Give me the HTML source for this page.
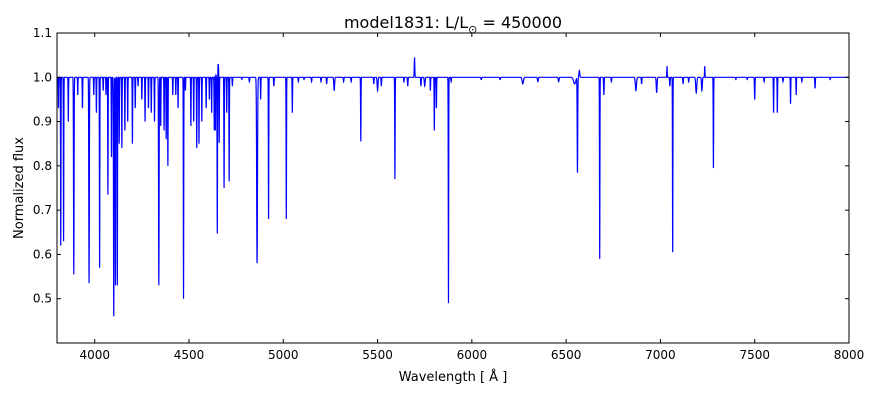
<!DOCTYPE html>
<html><head><meta charset="utf-8"><style>
body{margin:0;background:#fff;}
svg{display:block;font-family:"DejaVu Sans","Liberation Sans",sans-serif;}
</style></head><body>
<svg id="chart" width="880" height="400" viewBox="0 0 880 400" xmlns="http://www.w3.org/2000/svg">
<rect x="0" y="0" width="880" height="400" fill="#fff"/>
<g id="plot"></g>
<g id="axes"></g>
<text x="453" y="28" font-size="16" text-anchor="middle">model1831: L/L<tspan font-size="11" dy="5">⊙</tspan><tspan dy="-5"> = 450000</tspan></text>
<text x="453" y="381" font-size="13" text-anchor="middle">Wavelength [ Å ]</text>
<text x="23" y="188" font-size="13" text-anchor="middle" transform="rotate(-90 23 188)">Normalized flux</text>
</svg>
<script>
const xTicks=[4000,4500,5000,5500,6000,6500,7000,7500,8000];
const yTicks=[0.5,0.6,0.7,0.8,0.9,1.0,1.1];
const lineCenters=[3808,3820,3835,3860,3889,3910,3935,3970,3995,4009,4026,4045,4060,4070,4089,4101,4110,4120,4130,4144,4160,4175,4200,4215,4230,4250,4267,4285,4300,4317,4340,4350,4368,4379,4388,4414,4430,4442,4471,4481,4510,4525,4541,4553,4568,4591,4608,4620,4634,4640,4650,4660,4686,4700,4713,4730,4861,4880,4922,5016,5048,5270,5411,5500,5592,5750,5780,5801,5812,5876,6270,6560,6678,6870,6980,7065,7190,7220,7281,7500,7600,7620,7690,7720,7820,
5150,5200,5230,5320,5360,5480,5520,5640,5660,5730,5890,6050,6150,6350,6460,6545,6700,6740,6900,7050,7120,7150,7400,7460,7550,7650,7750,7900,4780,4820,4950,5080,5110];
const lineMinFlux=[0.93,0.62,0.63,0.9,0.555,0.96,0.93,0.535,0.96,0.92,0.57,0.97,0.96,0.735,0.82,0.46,0.53,0.53,0.85,0.84,0.88,0.9,0.85,0.93,0.98,0.95,0.9,0.93,0.92,0.9,0.53,0.89,0.88,0.86,0.8,0.96,0.96,0.93,0.5,0.97,0.89,0.9,0.84,0.85,0.9,0.93,0.95,0.92,0.88,0.86,0.645,0.85,0.75,0.92,0.765,0.98,0.58,0.95,0.68,0.68,0.92,0.97,0.855,0.97,0.77,0.98,0.97,0.88,0.93,0.49,0.985,0.785,0.59,0.97,0.965,0.605,0.965,0.97,0.795,0.95,0.92,0.92,0.94,0.96,0.975,
0.99,0.99,0.985,0.99,0.99,0.985,0.98,0.99,0.98,0.98,0.99,0.995,0.995,0.99,0.99,0.985,0.96,0.99,0.985,0.98,0.985,0.99,0.995,0.995,0.99,0.99,0.99,0.995,0.995,0.99,0.98,0.99,0.995];
const lineWidths=[1.5,1.5,1.5,1.5,2,1.5,1.5,2,1.5,1.5,1.5,1.5,1.5,1.5,1.5,2,1.5,1.5,1.5,1.5,1.5,1.5,1.5,1.5,1.5,1.5,1.5,1.5,1.5,1.5,2,1.5,1.5,1.5,1.5,1.5,1.5,1.5,1.5,1.5,1.5,1.5,1.5,1.5,1.5,1.5,1.5,1.5,1.5,1.5,1.5,1.5,1.5,1.5,1.5,1.5,3,1.5,1.5,1.5,1.5,3,1.5,3,1.5,3,1.5,1.5,1.5,1.5,5,2,1.5,4,3,1.5,4,3,1.5,2,1.5,1.5,1.5,1.5,2,
2,2,2,2,2,2,2,2,2,2,2,3,3,3,3,8,2,2,2,2,2,2,2,2,2,2,2,2,2,2,2,2,2];
const emisCenters=[4640,4655,5696,6570,7035,7235];
const emisPeak=[1.02,1.03,1.045,1.015,1.025,1.025];
const emisWidths=[3,3,2,3,1.5,1.5];

const X0=57,X1=849,Y0=33,Y1=343,xMin=3800,xMax=8000,yMin=0.4,yMax=1.1;
const xs=v=>X0+(v-xMin)/(xMax-xMin)*(X1-X0);
const ys=v=>Y1-(v-yMin)/(yMax-yMin)*(Y1-Y0);
const NS="http://www.w3.org/2000/svg";
function mk(t,a){const e=document.createElementNS(NS,t);for(const k in a)e.setAttribute(k,a[k]);return e;}
const plot=document.getElementById('plot'),axes=document.getElementById('axes');
function flux(l){let f=1;
 for(let i=0;i<lineCenters.length;i++){const d=(l-lineCenters[i])/lineWidths[i];if(Math.abs(d)<6)f-=(1-lineMinFlux[i])*Math.exp(-d*d);}
 for(let i=0;i<emisCenters.length;i++){const d=(l-emisCenters[i])/emisWidths[i];if(Math.abs(d)<6)f+=(emisPeak[i]-1)*Math.exp(-d*d);}
 return f;}
let pts=[];
for(let l=xMin;l<=xMax;l+=0.5){pts.push(xs(l).toFixed(2)+','+ys(flux(l)).toFixed(2));}
const clip=mk('clipPath',{id:'cp'});clip.appendChild(mk('rect',{x:X0,y:Y0,width:X1-X0,height:Y1-Y0}));plot.appendChild(clip);
const pl=mk('polyline',{points:pts.join(' '),fill:'none',stroke:'#0000ff','stroke-width':1.2,'clip-path':'url(#cp)'});


plot.appendChild(pl);
const frame=mk('rect',{x:X0,y:Y0,width:X1-X0,height:Y1-Y0,fill:'none',stroke:'#000','stroke-width':1});


axes.appendChild(frame);
xTicks.forEach(v=>{const x=xs(v);
 axes.appendChild(mk('line',{x1:x,x2:x,y1:Y1,y2:Y1-4,stroke:'#000'}));
 axes.appendChild(mk('line',{x1:x,x2:x,y1:Y0,y2:Y0+4,stroke:'#000'}));
 const t=mk('text',{x:x,y:Y1+16,'font-size':12,'text-anchor':'middle'});t.textContent=v;
 
 
 axes.appendChild(t);});
yTicks.forEach(v=>{const y=ys(v);
 axes.appendChild(mk('line',{x1:X0,x2:X0+4,y1:y,y2:y,stroke:'#000'}));
 axes.appendChild(mk('line',{x1:X1,x2:X1-4,y1:y,y2:y,stroke:'#000'}));
 const t=mk('text',{x:X0-5,y:y+4,'font-size':12,'text-anchor':'end'});t.textContent=v.toFixed(1);
 
 
 axes.appendChild(t);});
</script>
</body></html>
